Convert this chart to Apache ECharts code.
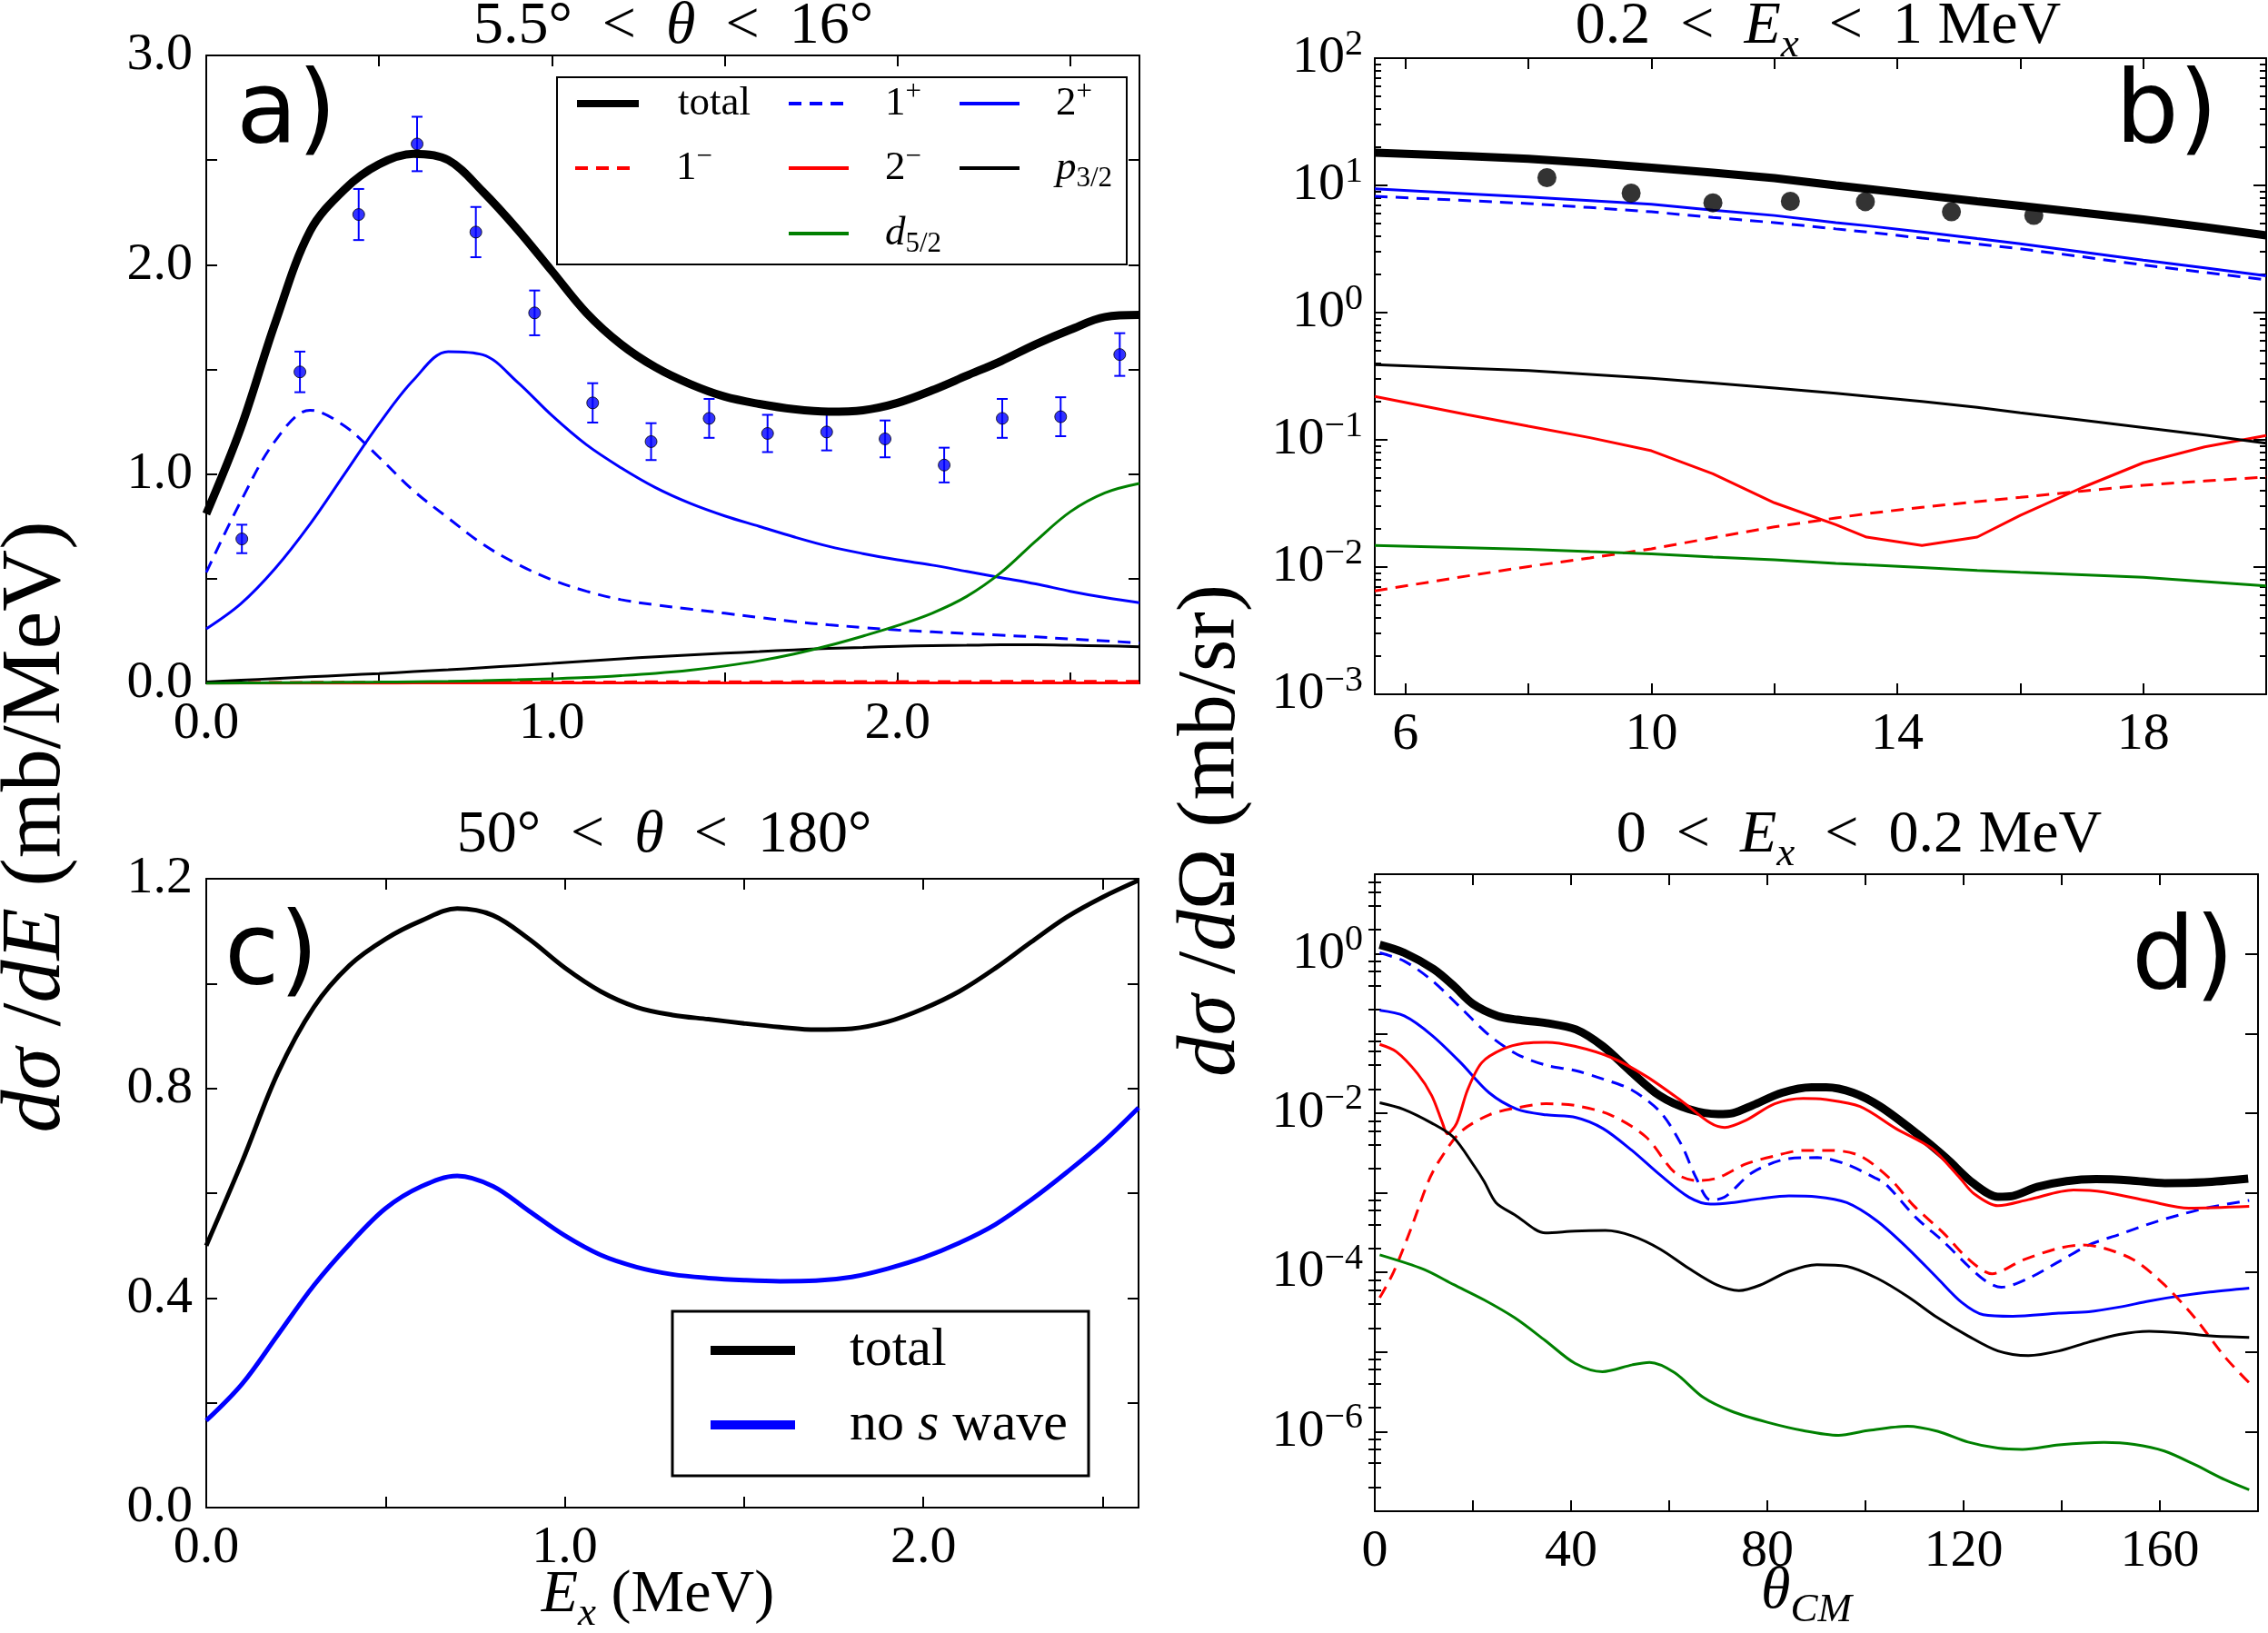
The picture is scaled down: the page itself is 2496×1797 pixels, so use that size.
<!DOCTYPE html>
<html><head><meta charset="utf-8">
<script src="https://cdn.jsdelivr.net/npm/echarts@6/dist/echarts.min.js"></script>
<style>html,body{margin:0;padding:0;background:#fff}#c{width:2496px;height:1797px}</style>
</head><body><div id="c"></div>
<script>
// ---------------- DATA ----------------
// Panel a : 5.5° < θ < 16°, dσ/dE vs Ex (MeV)
const aX      = [0,0.1,0.2,0.3,0.4,0.5,0.6,0.7,0.8,0.9,1.0,1.1,1.2,1.3,1.4,1.5,1.6,1.7,1.8,1.9,2.0,2.1,2.2,2.3,2.4,2.5,2.6,2.7];
const aTotal  = [0.81,1.22,1.725,2.16,2.36,2.48,2.53,2.50,2.35,2.17,1.97,1.77,1.62,1.51,1.43,1.37,1.335,1.31,1.298,1.305,1.34,1.40,1.47,1.54,1.62,1.69,1.75,1.76];
const a1p     = [0.53,0.87,1.16,1.305,1.23,1.08,0.92,0.79,0.665,0.57,0.495,0.44,0.40,0.375,0.355,0.335,0.315,0.295,0.28,0.267,0.255,0.246,0.238,0.23,0.222,0.212,0.203,0.193];
const a2p     = [0.26,0.38,0.55,0.76,1.00,1.24,1.45,1.585,1.57,1.44,1.28,1.14,1.03,0.935,0.86,0.80,0.75,0.70,0.655,0.62,0.59,0.565,0.535,0.505,0.475,0.44,0.41,0.385];
const a1m     = [0.003,0.004,0.004,0.005,0.005,0.005,0.006,0.006,0.006,0.007,0.007,0.007,0.007,0.008,0.008,0.008,0.008,0.008,0.009,0.009,0.009,0.009,0.009,0.01,0.01,0.01,0.01,0.01];
const a2m     = [0.001,0.001,0.001,0.001,0.001,0.001,0.002,0.002,0.002,0.002,0.002,0.002,0.002,0.002,0.002,0.002,0.002,0.002,0.002,0.002,0.002,0.002,0.002,0.002,0.002,0.002,0.002,0.002];
const aP32    = [0.007,0.015,0.023,0.031,0.039,0.047,0.056,0.065,0.075,0.085,0.095,0.106,0.117,0.127,0.136,0.144,0.152,0.16,0.167,0.172,0.177,0.18,0.182,0.184,0.184,0.182,0.179,0.175];
const aD52    = [0.0,0.002,0.003,0.004,0.005,0.006,0.008,0.01,0.013,0.017,0.022,0.028,0.037,0.048,0.063,0.083,0.108,0.14,0.18,0.226,0.276,0.335,0.415,0.53,0.68,0.82,0.91,0.955];
const aDataX  = [0.103,0.271,0.441,0.61,0.78,0.95,1.118,1.287,1.455,1.624,1.795,1.964,2.135,2.303,2.472,2.643];
const aDataY  = [0.69,1.488,2.24,2.577,2.156,1.77,1.34,1.155,1.266,1.194,1.201,1.168,1.043,1.266,1.274,1.571];
const aDataErr= [0.068,0.097,0.122,0.13,0.12,0.107,0.094,0.088,0.093,0.089,0.088,0.088,0.083,0.093,0.093,0.102];

// Panel b : 0.2 < Ex < 1 MeV, dσ/dΩ vs θ
const bX      = [5.5,7,8,9,10,11,12,13,13.5,14.4,15.3,16,17,18,19,20];
const bTotal  = [18.1,17.0,16.2,15.0,13.8,12.6,11.4,10.0,9.4,8.4,7.5,6.9,6.1,5.4,4.7,4.05];
const b1p     = [8.2,7.6,7.2,6.7,6.2,5.6,5.1,4.55,4.3,3.85,3.46,3.18,2.75,2.37,2.07,1.81];
const b2p     = [9.4,8.6,8.1,7.6,7.1,6.4,5.8,5.1,4.82,4.31,3.82,3.48,3.0,2.59,2.25,1.95];
const bP32    = [0.39,0.365,0.35,0.327,0.305,0.28,0.255,0.232,0.22,0.2,0.18,0.163,0.143,0.125,0.109,0.094];
const b2m     = [0.219,0.158,0.128,0.104,0.082,0.054,0.032,0.0215,0.0172,0.0148,0.0172,0.0255,0.042,0.066,0.088,0.108];
const b1m     = [0.0065,0.0085,0.0101,0.0118,0.0139,0.017,0.0207,0.0243,0.0263,0.0295,0.0327,0.0353,0.0395,0.044,0.0475,0.051];
const bD52    = [0.0148,0.0142,0.0138,0.0132,0.0127,0.012,0.0114,0.0107,0.0104,0.0099,0.0094,0.0091,0.0087,0.0083,0.0077,0.0071];
const bDataX  = [8.3,9.67,11.0,12.26,13.48,14.88,16.22];
const bDataY  = [11.5,8.7,7.3,7.5,7.45,6.2,5.8];

// Panel c : 50° < θ < 180°
const cX      = [0,0.1,0.2,0.3,0.4,0.5,0.6,0.7,0.8,0.9,1.0,1.1,1.2,1.3,1.4,1.5,1.6,1.7,1.8,1.9,2.0,2.1,2.2,2.3,2.4,2.5,2.6];
const cTotal  = [0.50,0.66,0.83,0.955,1.035,1.085,1.12,1.143,1.13,1.085,1.03,0.985,0.955,0.94,0.932,0.924,0.917,0.912,0.914,0.927,0.952,0.985,1.029,1.079,1.127,1.165,1.197];
const cNoS    = [0.166,0.236,0.33,0.424,0.503,0.571,0.613,0.633,0.613,0.566,0.519,0.482,0.459,0.445,0.438,0.434,0.432,0.433,0.44,0.456,0.477,0.505,0.540,0.587,0.64,0.697,0.763];

// Panel d : 0 < Ex < 0.2 MeV, [θ_CM, dσ/dΩ]
const dTotal = [[1,1.3],[6,1.03],[12,0.64],[16,0.40],[20,0.235],[25,0.166],[29,0.149],[35,0.135],[41,0.112],[46.5,0.069],[52,0.034],[58,0.0166],[64,0.0112],[70,0.0097],[73,0.0100],[77,0.0125],[83,0.018],[89,0.0211],[92,0.0211],[97.5,0.018],[103,0.0121],[110.5,0.0055],[116.5,0.0027],[122,0.00131],[127,0.00089],[130,0.00091],[135,0.00118],[141,0.0014],[147,0.00148],[154,0.00143],[161,0.00132],[169,0.00135],[178,0.0015]];
const d1p = [[1,1.03],[6,0.81],[11.6,0.467],[17.5,0.211],[23.3,0.095],[29,0.0547],[35,0.0398],[41,0.034],[46.5,0.0268],[52.4,0.0195],[58.2,0.0103],[62.5,0.004],[65.5,0.00153],[68.4,0.00081],[71.3,0.00088],[77,0.0018],[84.4,0.00268],[90.2,0.00276],[96,0.00229],[102,0.00153],[104.2,0.00127],[110.4,0.00048],[116,0.00024],[121,0.000119],[124.6,7.7e-5],[127.7,6.5e-5],[133.2,8.4e-5],[139.4,1.36e-4],[145.5,2.2e-4],[151.7,2.99e-4],[157.8,4.06e-4],[164,5.27e-4],[170.2,6.56e-4],[178.2,8.0e-4]];
const d2p = [[1,0.195],[6,0.166],[11.6,0.0953],[17.5,0.043],[23.3,0.018],[29,0.0112],[35,0.0095],[41,0.0088],[46.5,0.0064],[52.4,0.0034],[58.2,0.00166],[64,0.00088],[68.4,0.00072],[72.7,0.00075],[78.5,0.00084],[84.4,0.00091],[90,0.00089],[96.2,0.00075],[102.4,0.00044],[108.6,0.000201],[114.7,8.4e-5],[119.6,4.2e-5],[124,2.94e-5],[130,2.81e-5],[139.4,3.07e-5],[145.5,3.2e-5],[151.7,3.66e-5],[157.8,4.36e-5],[164,5.05e-5],[170.2,5.66e-5],[178.2,6.34e-5]];
const d2m = [[1,0.073],[4.4,0.059],[8.7,0.0314],[11.6,0.0166],[13.8,0.0075],[14.8,0.0055],[16.7,0.0075],[18.9,0.0195],[21.8,0.043],[26.2,0.064],[30.5,0.0752],[35,0.0776],[40.7,0.0693],[48,0.0505],[55.3,0.029],[62.5,0.0142],[68.4,0.0075],[71.3,0.0066],[75.6,0.0081],[81.5,0.0131],[87.3,0.0153],[91.6,0.0149],[98.9,0.0121],[106.2,0.0064],[113.5,0.0036],[119,0.0016],[122.1,0.000975],[127,0.000687],[133.2,0.000818],[142.4,0.00108],[148.6,0.00102],[157.8,0.000783],[165.9,0.00064],[178.2,0.000674]];
const d1m = [[1,4.8e-5],[3.8,1.0e-4],[7.5,3.7e-4],[10.9,0.00138],[13.1,0.0025],[17.5,0.0058],[23.3,0.0095],[29.1,0.0117],[34.9,0.0131],[40.7,0.0125],[48,0.0095],[55.3,0.005],[61.1,0.0018],[65.5,0.00142],[69.8,0.00153],[75.6,0.00229],[81.5,0.0029],[87.3,0.0034],[93.1,0.0034],[98.9,0.0029],[105,0.0015],[109.8,0.00069],[115.9,0.000312],[120.9,0.000148],[125.8,9.6e-5],[132,1.42e-4],[139.4,2.01e-4],[144.3,2.2e-4],[148.6,2.01e-4],[154.8,1.42e-4],[160.9,7.0e-5],[167.1,2.7e-5],[173.3,8.6e-6],[178.2,4.1e-6]];
const dP32 = [[1,0.0135],[5.8,0.0112],[11.6,0.0075],[16,0.005],[20.4,0.0021],[22.3,0.00138],[24.7,0.00075],[28.5,0.00053],[34.8,0.000313],[40.8,0.00033],[47,0.000335],[52.5,0.000286],[58.2,0.000195],[64,0.000112],[69.8,6.9e-5],[74.2,5.9e-5],[78.5,6.9e-5],[84.4,0.000103],[90.1,0.000125],[96.2,0.000119],[102.4,8.4e-5],[108.6,4.97e-5],[114.7,2.69e-5],[120.9,1.59e-5],[127,1.03e-5],[133.2,9.0e-6],[139.4,1.03e-5],[145.5,1.33e-5],[151.7,1.66e-5],[157.8,1.82e-5],[164,1.74e-5],[170.2,1.59e-5],[178.2,1.52e-5]];
const dD52 = [[1,1.66e-4],[10,1.09e-4],[16.1,7.0e-5],[22.3,4.5e-5],[28.5,2.69e-5],[34.7,1.40e-5],[40.8,7.2e-6],[46.4,5.66e-6],[52.5,6.9e-6],[56,7.4e-6],[61.1,5.5e-6],[66.9,2.7e-6],[72.7,1.8e-6],[80,1.31e-6],[87.3,1.03e-6],[94.5,9.0e-7],[100.4,1.03e-6],[108.6,1.17e-6],[114.7,1.01e-6],[120.9,7.4e-7],[127,6.2e-7],[132,5.97e-7],[139.4,6.8e-7],[148.6,7.3e-7],[154.8,6.9e-7],[160.9,5.7e-7],[167.1,3.85e-7],[173.3,2.48e-7],[178.2,1.86e-7]];

// Tick positions / labels
const aXTicks = [0,0.5,1,1.5,2,2.5], aXLabels = [0,1,2];
const aYTicks = [0,0.5,1,1.5,2,2.5,3], aYLabels = [0,1,2,3];
const bXTicks = [6,8,10,12,14,16,18], bXLabels = [6,10,14,18];
const bYMajor = [1e-3,1e-2,1e-1,1,10,100], bYLabels = [1e-3,1e-2,1e-1,1,10,100];
const cXTicks = [0,0.5,1,1.5,2,2.5], cXLabels = [0,1,2];
const cYTicks = [0,0.2,0.4,0.6,0.8,1.0,1.2], cYLabels = [0,0.4,0.8,1.2];
const dXTicks = [0,20,40,60,80,100,120,140,160,180], dXLabels = [0,40,80,120,160];
const dYMajor = [1e-7,1e-6,1e-5,1e-4,1e-3,1e-2,1e-1,1,10], dYLabels = [1e-6,1e-4,1e-2,1];
function minorLog(e0, e1, subs){ const r=[]; for(let e=e0;e<e1;e++) subs.forEach(k=>r.push(+(k*Math.pow(10,e)).toPrecision(3))); return r; }
const bYMinor = minorLog(-3, 2, [2,3,4,5,6,7,8,9]);
const dYMinor = minorLog(-7, 1, [2,4,6,8]);

// ---------------- STYLE HELPERS ----------------
const SER = "'Liberation Serif'";
const SANS = "'DejaVu Sans', sans-serif";
const TFS = 58;
const BLUE='#0000ff', RED='#ff0000', GREEN='#008000', BLACK='#000000';
const DASH=[14,9];
const AXL = {show:true, onZero:false, lineStyle:{color:'#000', width:2}};

function fmtLin(v){ return (Math.round(v*10)/10).toFixed(1); }
function fmtInt(v){ return String(Math.round(v)); }
function fmtLog(v){ const e=Math.round(Math.log10(v)); return '{b|10}{s|'+(e<0?'\u2212'+(-e):e)+'}'; }
const logRich = {b:{fontFamily:SER,fontSize:TFS,color:'#000'}, s:{fontFamily:SER,fontSize:40,color:'#000',padding:[0,0,30,0]}};

function axis(kind, gi, pos, min, max, ticks, labels, fmt, opts){
  opts = opts || {};
  const isLog = kind==='log';
  return {
    type: isLog?'log':'value', logBase:10, gridIndex:gi, position:pos, min, max, scale:false,
    axisLine: opts.noLine ? {show:false} : AXL,
    axisTick: {show:true, inside:true, length: opts.len||12, customValues: ticks, lineStyle:{color:'#000', width:2}},
    axisLabel: labels ? {show:true, customValues: labels, formatter: fmt, margin: opts.margin||16, color:'#000',
       fontFamily:SER, fontSize:TFS, rich: isLog?logRich:undefined} : {show:false},
    splitLine:{show:false}, minorTick:{show:false}, minorSplitLine:{show:false}, silent:true
  };
}

const xAxes = [
  axis('value',0,'bottom',0,2.7,aXTicks,aXLabels,fmtLin,{margin:16}),
  axis('value',0,'top',0,2.7,aXTicks,null),
  axis('value',1,'bottom',5.5,20,bXTicks,bXLabels,fmtInt,{margin:16}),
  axis('value',1,'top',5.5,20,bXTicks,null),
  axis('value',2,'bottom',0,2.6,cXTicks,cXLabels,fmtLin,{margin:16}),
  axis('value',2,'top',0,2.6,cXTicks,null),
  axis('value',3,'bottom',0,180,dXTicks,dXLabels,fmtInt,{margin:16}),
  axis('value',3,'top',0,180,dXTicks,null)
];
const yAxes = [
  axis('value',0,'left',0,3,aYTicks,aYLabels,fmtLin,{margin:15}),           //0
  axis('value',0,'right',0,3,aYTicks,null),                                  //1
  axis('log',1,'left',1e-3,100,bYMajor,bYLabels,fmtLog,{margin:13,len:14}),  //2
  axis('log',1,'right',1e-3,100,bYMajor,null,null,{len:14}),                 //3
  axis('log',1,'left',1e-3,100,bYMinor,null,null,{len:7,noLine:true}),       //4
  axis('log',1,'right',1e-3,100,bYMinor,null,null,{len:7,noLine:true}),      //5
  axis('value',2,'left',0,1.2,cYTicks,cYLabels,fmtLin,{margin:15}),          //6
  axis('value',2,'right',0,1.2,cYTicks,null),                                //7
  axis('log',3,'left',1e-7,10,dYMajor,dYLabels,fmtLog,{margin:13,len:14}),   //8
  axis('log',3,'right',1e-7,10,dYMajor,null,null,{len:14}),                  //9
  axis('log',3,'left',1e-7,10,dYMinor,null,null,{len:7,noLine:true}),        //10
  axis('log',3,'right',1e-7,10,dYMinor,null,null,{len:7,noLine:true})        //11
];

function ln(name, data, xi, yi, color, width, dashed, smooth){
  return {type:'line', name, xAxisIndex:xi, yAxisIndex:yi, data, symbol:'none', showSymbol:false,
    smooth: smooth||false, lineStyle:{color, width, type: dashed?DASH:'solid', cap:'butt'}, itemStyle:{color},
    emphasis:{disabled:true}, silent:true, animation:false};
}
function zip(xs, ys){ return xs.map((x,i)=>[x, ys[i]]); }

const SM = 0.35;
const series = [
  // panel a
  ln('total', zip(aX,aTotal), 0,0, BLACK, 9, false, SM),
  ln('1+',    zip(aX,a1p),    0,0, BLUE, 3, true, SM),
  ln('2+',    zip(aX,a2p),    0,0, BLUE, 3, false, SM),
  ln('1\u2212', zip(aX,a1m),  0,0, RED, 3, true, SM),
  ln('2\u2212', zip(aX,a2m),  0,0, RED, 3, false, SM),
  ln('p3/2',  zip(aX,aP32),   0,0, BLACK, 3, false, SM),
  ln('d5/2',  zip(aX,aD52),   0,0, GREEN, 3, false, SM),
  {type:'custom', xAxisIndex:0, yAxisIndex:0, silent:true, z:3,
   data: aDataX.map((x,i)=>[x, aDataY[i], aDataErr[i]]),
   encode:{x:0, y:1},
   renderItem: function(params, api){
     const x=api.value(0), y=api.value(1), e=api.value(2);
     const t=api.coord([x,y+e]), b=api.coord([x,y-e]); const c=6;
     const st={stroke:BLUE, lineWidth:2};
     return {type:'group', children:[
       {type:'line', shape:{x1:t[0],y1:t[1],x2:b[0],y2:b[1]}, style:st},
       {type:'line', shape:{x1:t[0]-c,y1:t[1],x2:t[0]+c,y2:t[1]}, style:st},
       {type:'line', shape:{x1:b[0]-c,y1:b[1],x2:b[0]+c,y2:b[1]}, style:st}
     ]};
   }},
  {type:'scatter', xAxisIndex:0, yAxisIndex:0, silent:true, z:4, data: zip(aDataX,aDataY), symbol:'circle', symbolSize:13,
   itemStyle:{color:BLUE, borderColor:'#000', borderWidth:1}},
  // panel b
  ln('total', zip(bX,bTotal), 2,2, BLACK, 9, false, false),
  ln('1+',    zip(bX,b1p),    2,2, BLUE, 3, true, false),
  ln('2+',    zip(bX,b2p),    2,2, BLUE, 3, false, false),
  ln('1\u2212', zip(bX,b1m),  2,2, RED, 3, true, false),
  ln('2\u2212', zip(bX,b2m),  2,2, RED, 3, false, false),
  ln('p3/2',  zip(bX,bP32),   2,2, BLACK, 3, false, false),
  ln('d5/2',  zip(bX,bD52),   2,2, GREEN, 3, false, false),
  {type:'scatter', xAxisIndex:2, yAxisIndex:2, silent:true, z:4, data: zip(bDataX,bDataY), symbol:'circle', symbolSize:21,
   itemStyle:{color:'#000'}},
  // panel c
  ln('total', zip(cX,cTotal), 4,6, BLACK, 5, false, SM),
  ln('no s wave', zip(cX,cNoS), 4,6, BLUE, 5, false, SM),
  // panel d
  ln('total', dTotal, 6,8, BLACK, 9, false, 0.3),
  ln('1+',    d1p,    6,8, BLUE, 3, true, 0.3),
  ln('2+',    d2p,    6,8, BLUE, 3, false, 0.3),
  ln('1\u2212', d1m,  6,8, RED, 3, true, 0.3),
  ln('2\u2212', d2m,  6,8, RED, 3, false, 0.3),
  ln('p3/2',  dP32,   6,8, BLACK, 3, false, 0.3),
  ln('d5/2',  dD52,   6,8, GREEN, 3, false, 0.3)
];

// ---------------- LEGENDS ----------------
const legTextA = {
  'total':'{sp| }{r|total}', '1+':'{sp| }{r|1}{sup|+}', '2+':'{sp| }{r|2}{sup|+}',
  '1\u2212':'{sp| }{r|1}{sup|\u2212}', '2\u2212':'{sp| }{r|2}{sup|\u2212}',
  'p3/2':'{sp| }{i|p}{sub|3/2}', 'd5/2':'{sp| }{i|d}{sub|5/2}',
  'no s wave':'{sp| }{r|no }{i|s}{r| wave}'
};
function legRich(fs, sp){
  const s=Math.round(fs*0.7);
  return {r:{fontFamily:SER,fontSize:fs,color:'#000',lineHeight:80}, i:{fontFamily:SER,fontSize:fs,fontStyle:'italic',color:'#000',lineHeight:80},
    sup:{fontFamily:SER,fontSize:s,color:'#000',lineHeight:80,padding:[0,0,Math.round(fs*0.55),0]},
    sub:{fontFamily:SER,fontSize:s,color:'#000',lineHeight:80,padding:[Math.round(fs*0.5),0,0,0]},
    sp:{width:sp, lineHeight:80}};
}
function leg(name, left, rowC, iw, lw, fs, sp){
  return {show:true, selectedMode:false, orient:'horizontal', left, top: rowC-40, padding:0, itemGap:0,
    itemWidth: iw, itemHeight: 14, data:[name], lineStyle:{width:lw}, itemStyle:{opacity:0, borderWidth:0},
    formatter: n=>legTextA[n], textStyle:{fontFamily:SER, fontSize:fs, color:'#000', lineHeight:80, rich: legRich(fs, sp)}};
}
const legends = [
  leg('total', 631, 114, 68, 8, 45, 38),
  leg('1\u2212', 631, 185, 68, 4, 45, 38),
  leg('1+', 866, 114, 66, 4, 45, 35),
  leg('2\u2212', 866, 185, 66, 4, 45, 35),
  leg('d5/2', 866, 257, 66, 4, 45, 35),
  leg('2+', 1054, 114, 66, 4, 45, 35),
  leg('p3/2', 1054, 185, 66, 4, 45, 35),
  leg('total', 777, 1486, 93, 10, 60, 55),
  leg('no s wave', 777, 1568, 93, 10, 60, 55)
];

// ---------------- TEXT / FRAMES ----------------
function zr(fs){
  const s=Math.round(fs*0.68);
  return {r:{fontFamily:SER,fontSize:fs,fill:'#000'}, i:{fontFamily:SER,fontSize:fs,fontStyle:'italic',fill:'#000'},
    sub:{fontFamily:SER,fontSize:s,fontStyle:'italic',fill:'#000',padding:[Math.round(fs*0.6),0,0,0]}};
}
function T(x,y,text,fs,rot){
  return {type:'text', x, y, rotation: rot||0, silent:true, z:50,
    style:{text, x:0, y:0, align:'center', verticalAlign:'middle', fill:'#000', fontFamily:SER, fontSize:fs, rich: zr(fs)}};
}
function P(x,y,text){
  return {type:'text', x, y, silent:true, z:50, style:{text, x:0, y:0, align:'left', verticalAlign:'middle', fill:'#000', fontFamily:SANS, fontSize:110}};
}
const E2='\u2002';
const graphics = [
  T(741, 30, '{r|5.5°'+E2+'<'+E2+'}{i|θ}{r|'+E2+'<'+E2+'16°}', 66),
  T(2001, 30, '{r|0.2'+E2+'<'+E2+'}{i|E}{sub|x}{r|'+E2+'<'+E2+'1 MeV}', 66),
  T(731, 920, '{r|50°'+E2+'<'+E2+'}{i|θ}{r|'+E2+'<'+E2+'180°}', 66),
  T(2046, 920, '{r|0'+E2+'<'+E2+'}{i|E}{sub|x}{r|'+E2+'<'+E2+'0.2 MeV}', 66),
  T(724, 1756, '{i|E}{sub|x}{r| (MeV)}', 66),
  T(1988, 1752, '{i|θ}{sub|CM}', 66),
  T(40, 910, '{i|dσ}{r| /}{i|dE}{r| (mb/MeV)}', 94, Math.PI/2),
  T(1334, 914, '{i|dσ}{r| /}{i|d}{r|Ω (mb/sr)}', 91, Math.PI/2),
  P(260, 127, 'a)'), P(2328, 127, 'b)'), P(247, 1053, 'c)'), P(2346, 1058, 'd)'),
  {type:'rect', silent:true, z:40, shape:{x:613, y:85, width:627, height:206}, style:{fill:'none', stroke:'#000', lineWidth:2}},
  {type:'rect', silent:true, z:40, shape:{x:740, y:1443, width:458, height:181}, style:{fill:'none', stroke:'#000', lineWidth:3}}
];

const option = {
  animation:false, backgroundColor:'#fff',
  grid:[
    {left:227, top:61, width:1027, height:691},
    {left:1513, top:64, width:981, height:700},
    {left:227, top:967, width:1026, height:692},
    {left:1513, top:962, width:972, height:701}
  ],
  xAxis: xAxes, yAxis: yAxes, legend: legends, graphic: graphics, series
};
const chart = echarts.init(document.getElementById('c'), null, {renderer:'canvas'});
chart.setOption(option);
</script></body></html>
